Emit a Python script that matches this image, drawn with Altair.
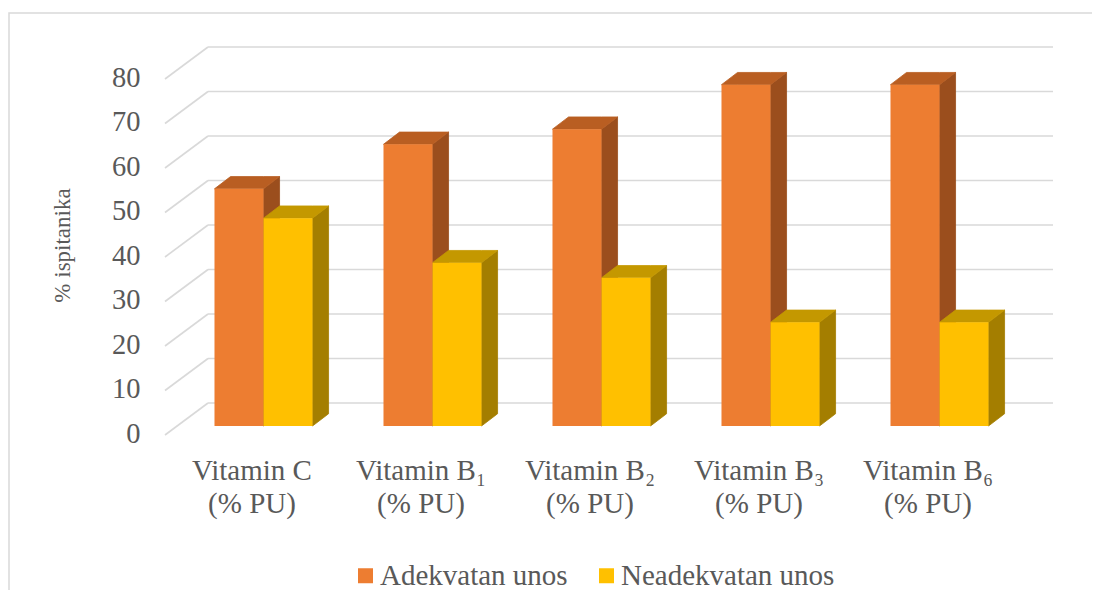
import json
import altair as alt
import pandas as pd

# ---- data ----
categories = ["Vitamin C", "Vitamin B\u2081", "Vitamin B\u2082", "Vitamin B\u2083", "Vitamin B\u2086"]
unit_line = "(% PU)"
series = ["Adekvatan unos", "Neadekvatan unos"]
adekvatan = [53.3, 63.3, 66.7, 76.7, 76.7]
neadekvatan = [46.7, 36.7, 33.3, 23.3, 23.3]
y_ticks = [0, 10, 20, 30, 40, 50, 60, 70, 80]

# ---- styles ----
front_colors = ["#ED7D31", "#FFC000"]
top_colors = ["#B95E22", "#C49800"]
side_colors = ["#9B4E1D", "#A47E00"]
grid_color = "#D9D9D9"
text_color = "#595959"
FONT = "Liberation Serif, Times New Roman, DejaVu Serif, serif"

BAR_W = 0.29      # bar width, in category units
DEPTH_X = 0.095   # bar depth, in category units
DEPTH_Y = 2.75    # bar depth, in value units
BAR_DX, BAR_DY = 14, -9     # bars stand a little behind the front plane (px)
WALL_DX, WALL_DY = 43, -32  # back wall offset (px)

fronts, sides, tops = [], [], []
for s_idx, (name, vals) in enumerate(zip(series, [adekvatan, neadekvatan])):
    for i, v in enumerate(vals):
        x0 = i + 0.5 - BAR_W + s_idx * BAR_W
        x1 = x0 + BAR_W
        bid = f"{s_idx}-{i}"
        fronts.append(dict(series=name, cat=categories[i], x0=x0, x1=x1, y0=0, y1=v))
        sides += [
            dict(series=name, id=bid, x=x1, lo=0, hi=v),
            dict(series=name, id=bid, x=x1 + DEPTH_X, lo=DEPTH_Y, hi=v + DEPTH_Y),
        ]
        tops += [
            dict(series=name, id=bid, x=x0, lo=v, hi=v),
            dict(series=name, id=bid, x=x0 + DEPTH_X, lo=v, hi=v + DEPTH_Y),
            dict(series=name, id=bid, x=x1, lo=v, hi=v + DEPTH_Y),
            dict(series=name, id=bid, x=x1 + DEPTH_X, lo=v + DEPTH_Y, hi=v + DEPTH_Y),
        ]

fronts_df = pd.DataFrame(fronts)
sides_df = pd.DataFrame(sides)
tops_df = pd.DataFrame(tops)
grid_df = pd.DataFrame({"v": y_ticks})

xs = alt.Scale(domain=[0, len(categories)], nice=False, zero=False)
ys = alt.Scale(domain=[0, 80], nice=False)

label_arr = json.dumps([[c, unit_line] for c in categories], ensure_ascii=False)
label_expr = f"{label_arr}[floor(datum.value)]"

# chart frame (decoration)
frame = alt.Chart(pd.DataFrame({"k": [0]})).mark_rect(
    fillOpacity=0, stroke=grid_color, strokeWidth=1.5
).encode(
    x=alt.value(-156), x2=alt.value(960), y=alt.value(-66), y2=alt.value(620)
)

# back-wall gridlines
grid_h = alt.Chart(grid_df).mark_rule(
    color=grid_color, strokeWidth=1.6,
    xOffset=WALL_DX, x2Offset=WALL_DX, yOffset=WALL_DY,
).encode(
    x=alt.X(datum=0, scale=xs),
    x2=alt.X2(datum=len(categories)),
    y=alt.Y("v:Q", scale=ys),
)
grid_d = alt.Chart(grid_df).mark_rule(
    color=grid_color, strokeWidth=1.6, x2Offset=WALL_DX, y2Offset=WALL_DY,
).encode(
    x=alt.X(datum=0, scale=xs),
    x2=alt.X2(datum=0),
    y=alt.Y("v:Q", scale=ys),
    y2=alt.Y2("v:Q"),
)


def face(df, name, color):
    return alt.Chart(df).transform_filter(alt.datum.series == name).mark_area(
        color=color, opacity=1, stroke=color, strokeWidth=0.8,
        xOffset=BAR_DX, yOffset=BAR_DY, y2Offset=BAR_DY, interpolate="linear",
    ).encode(
        x=alt.X("x:Q", scale=xs),
        y=alt.Y("lo:Q", scale=ys, stack=False),
        y2=alt.Y2("hi:Q"),
        detail="id:N",
    )


faces = []
for s_idx, name in enumerate(series):
    faces.append(face(sides_df, name, side_colors[s_idx]))
    faces.append(face(tops_df, name, top_colors[s_idx]))

front = alt.Chart(fronts_df).mark_rect(
    xOffset=BAR_DX, x2Offset=BAR_DX, yOffset=BAR_DY, y2Offset=BAR_DY,
    strokeWidth=0, opacity=1,
).encode(
    x=alt.X(
        "x0:Q", scale=xs, title="",
        axis=alt.Axis(
            values=[i + 0.5 for i in range(len(categories))],
            labelExpr=label_expr, labelAngle=0, labelFontSize=29,
            labelLineHeight=33, labelPadding=21, labelOffset=2, labelColor=text_color,
            labelFont=FONT, labelOverlap=False, labelFlush=False, labelBound=False,
            domain=False, ticks=False, grid=False, title="",
        ),
    ),
    x2="x1:Q",
    y=alt.Y(
        "y1:Q", scale=ys, title="% ispitanika",
        axis=alt.Axis(
            values=y_ticks, labelFontSize=28.5, labelColor=text_color, labelFont=FONT,
            labelPadding=25, labelOffset=-2, domain=False, ticks=False, grid=False,
            title="% ispitanika",
            titleFont=FONT, titleFontSize=23, titleFontWeight="normal",
            titleColor=text_color, titleAngle=270, titleX=-103, titleY=166,
            titleAlign="center", titleBaseline="middle",
        ),
    ),
    y2="y0:Q",
    color=alt.Color(
        "series:N",
        scale=alt.Scale(domain=series, range=front_colors),
        legend=alt.Legend(
            title=None, orient="none", legendX=186, legendY=482, direction="horizontal",
            symbolType="square", symbolSize=225, symbolStrokeWidth=0,
            labelFont=FONT, labelFontSize=29, labelColor=text_color,
            labelOffset=0, columnPadding=24, padding=0, labelLimit=400,
        ),
    ),
)

chart = alt.layer(frame, grid_d, grid_h, *faces, front).properties(
    width=845, height=356,
    padding={"left": 157, "top": 71, "right": 82, "bottom": 155},
    autosize=alt.AutoSizeParams(type="none"),
).configure(font=FONT).configure_view(strokeWidth=0).configure_axis(
    grid=False, domain=False, ticks=False
)

chart.save("out.html", embed_options={"renderer": "svg", "actions": False})
